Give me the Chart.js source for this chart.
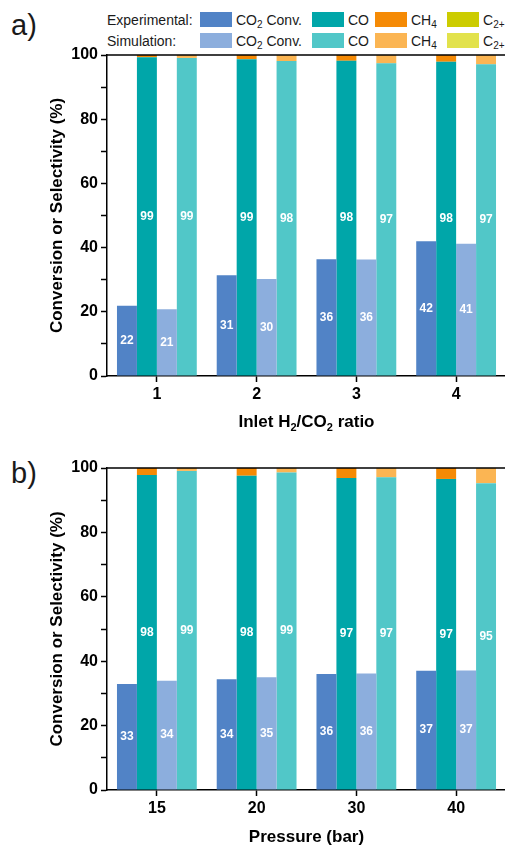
<!DOCTYPE html>
<html lang="en">
<head>
  <meta charset="UTF-8">
  <title>Conversion and selectivity</title>
  <script src="https://cdn.jsdelivr.net/npm/chart.js"></script>
  <style>
    html, body { margin: 0; padding: 0; background: #fff; }
    body {
      width: 505px; height: 848px; position: relative; overflow: hidden;
      font-family: "Liberation Sans", Arial, sans-serif; color: #1a1a1a;
    }
    .panel-tag { position: absolute; left: 11px; font-size: 29px; line-height: 30px; }
    .leg { position: absolute; font-size: 14px; line-height: 16px; white-space: nowrap; }
    .sw { position: absolute; width: 32px; height: 15px; }
    .leg sub { font-size: 10px; line-height: 0; vertical-align: -3px; }
    .xtitle {
      position: absolute; left: 107px; width: 399px; text-align: center;
      font-size: 17px; font-weight: bold; line-height: 20px; color: #000;
    }
    .xtitle sub { font-size: 11px; line-height: 0; vertical-align: -4px; }
    .box { position: absolute; left: 0; width: 510px; }
  </style>
</head>
<body>
  <div class="panel-tag" style="top:10px">a)</div>
  <div class="panel-tag" style="top:458px">b)</div>

  <!-- legend, two rows -->
  <div class="leg" style="left:107px;top:12px">Experimental:</div>
  <div class="leg" style="left:107px;top:33px">Simulation:</div>
  <div id="legend"></div>

  <div class="box" style="top:0;height:440px"><canvas id="ratioChart"></canvas></div>
  <div class="box" style="top:440px;height:408px"><canvas id="pressureChart"></canvas></div>

  <div class="xtitle" style="top:412px">Inlet H<sub>2</sub>/CO<sub>2</sub> ratio</div>

  <script>
    // panel a: inlet H2/CO2 ratio
    const ratioLabels = ['1', '2', '3', '4'];
    const expConvA = [21.9, 31.4, 36.4, 42.0];
    const expCOA   = [99.3, 98.7, 98.2, 97.9];
    const expCH4A  = [0.7, 1.3, 1.8, 2.1];
    const expC2A   = [0, 0, 0, 0];
    const simConvA = [20.8, 30.2, 36.3, 41.2];
    const simCOA   = [99.1, 98.1, 97.4, 97.1];
    const simCH4A  = [0.9, 1.9, 2.6, 2.9];
    const simC2A   = [0, 0, 0, 0];

    // panel b: pressure
    const pressureLabels = ['15', '20', '30', '40'];
    const expConvB = [32.9, 34.4, 36.0, 37.0];
    const expCOB   = [97.8, 97.6, 96.9, 96.6];
    const expCH4B  = [2.2, 2.4, 3.1, 3.4];
    const expC2B   = [0, 0, 0, 0];
    const simConvB = [33.9, 35.0, 36.2, 37.1];
    const simCOB   = [99.1, 98.6, 97.1, 95.3];
    const simCH4B  = [0.9, 1.4, 2.9, 4.7];
    const simC2B   = [0, 0, 0, 0];

    const colors = {
      expConv: '#5183c6', expCO: '#00a6a9', expCH4: '#f58a05', expC2: '#cccc00',
      simConv: '#8caedd', simCO: '#51c7c8', simCH4: '#fbb553', simC2: '#e2e24c'
    };

    const FONT = '"Liberation Sans", Arial, sans-serif';

    // legend swatches
    const legendItems = [
      { x: 200, key: 'Conv', text: 'CO<sub>2</sub> Conv.' },
      { x: 312, key: 'CO', text: 'CO' },
      { x: 375, key: 'CH4', text: 'CH<sub>4</sub>' },
      { x: 447, key: 'C2', text: 'C<sub>2+</sub>' }
    ];
    const legendEl = document.getElementById('legend');
    [['exp', 12], ['sim', 33]].forEach(([row, top]) => {
      legendItems.forEach(it => {
        legendEl.insertAdjacentHTML('beforeend',
          `<div class="sw" style="left:${it.x}px;top:${top}px;background:${colors[row + it.key]}"></div>` +
          `<div class="leg" style="left:${it.x + 36}px;top:${top}px">${it.text}</div>`);
      });
    });

    // white numbers in the middle of labelled bars
    const barLabels = {
      id: 'barLabels',
      afterDatasetsDraw(chart) {
        const ctx = chart.ctx;
        ctx.save();
        ctx.font = 'bold 12px ' + FONT;
        ctx.fillStyle = '#fff';
        ctx.textAlign = 'center';
        ctx.textBaseline = 'middle';
        chart.data.datasets.forEach((ds, i) => {
          if (!ds.showLabel) return;
          chart.getDatasetMeta(i).data.forEach((bar, j) => {
            const p = bar.getProps(['x', 'y', 'base'], true);
            ctx.fillText(Math.round(ds.data[j]), p.x, (p.y + p.base) / 2);
          });
        });
        ctx.restore();
      }
    };

    // top and right frame lines
    const frame = {
      id: 'frame',
      afterDraw(chart) {
        const { ctx, chartArea: a } = chart;
        ctx.save();
        ctx.strokeStyle = '#000';
        ctx.lineWidth = 1.5;
        ctx.beginPath();
        ctx.moveTo(a.left, a.top);
        ctx.lineTo(a.right, a.top);
        ctx.lineTo(a.right, a.bottom);
        ctx.stroke();
        ctx.restore();
      }
    };

    function makeChart(id, labels, d, xTitle, padTop, xHeight) {
      const ds = (label, data, color, stack, showLabel) =>
        ({ label, data, backgroundColor: color, stack, showLabel, borderWidth: 0,
           categoryPercentage: 0.8, barPercentage: 1.0 });
      return new Chart(document.getElementById(id), {
        type: 'bar',
        data: {
          labels,
          datasets: [
            ds('Exp CO2 Conv.', d[0], colors.expConv, 'expConv', true),
            ds('Exp CO', d[1], colors.expCO, 'expSel', true),
            ds('Exp CH4', d[2], colors.expCH4, 'expSel', false),
            ds('Exp C2+', d[3], colors.expC2, 'expSel', false),
            ds('Sim CO2 Conv.', d[4], colors.simConv, 'simConv', true),
            ds('Sim CO', d[5], colors.simCO, 'simSel', true),
            ds('Sim CH4', d[6], colors.simCH4, 'simSel', false),
            ds('Sim C2+', d[7], colors.simC2, 'simSel', false)
          ]
        },
        options: {
          responsive: true,
          maintainAspectRatio: false,
          animation: false,
          layout: { padding: { top: padTop, right: 4, left: 0, bottom: 0 } },
          plugins: { legend: { display: false }, tooltip: { enabled: false } },
          scales: {
            x: {
              stacked: true,
              afterFit(axis) { axis.height = xHeight; },
              grid: { display: true, drawOnChartArea: false, offset: false, tickLength: 6, tickColor: '#000', tickWidth: 1.5 },
              border: { display: true, color: '#000', width: 1.5 },
              ticks: { color: '#000', padding: 3, font: { family: FONT, size: 16, weight: 'bold' } },
              title: { display: !!xTitle, text: xTitle, color: '#000',
                       padding: { top: 0, bottom: 0 },
                       font: { family: FONT, size: 17, weight: 'bold' } }
            },
            y: {
              stacked: true,
              min: 0, max: 100,
              afterFit(axis) { axis.width = 107; },
              grid: { display: true, drawOnChartArea: false, tickLength: 6, tickColor: '#000', tickWidth: 1.5 },
              border: { display: true, color: '#000', width: 1.5 },
              ticks: {
                stepSize: 10, color: '#000', padding: 3,
                font: { family: FONT, size: 16, weight: 'bold' },
                callback: v => (v % 20 === 0 ? v : '')
              },
              title: { display: true, text: 'Conversion or Selectivity (%)', color: '#000',
                       padding: { top: 47, bottom: 0 },
                       font: { family: FONT, size: 17, weight: 'bold' } }
            }
          }
        },
        plugins: [barLabels, frame]
      });
    }

    // panel a's axis title has subscripts, so it is set as HTML above
    makeChart('ratioChart', ratioLabels,
      [expConvA, expCOA, expCH4A, expC2A, simConvA, simCOA, simCH4A, simC2A],
      '', 55, 64);
    makeChart('pressureChart', pressureLabels,
      [expConvB, expCOB, expCH4B, expC2B, simConvB, simCOB, simCH4B, simC2B],
      'Pressure (bar)', 28, 58);
  </script>
</body>
</html>
